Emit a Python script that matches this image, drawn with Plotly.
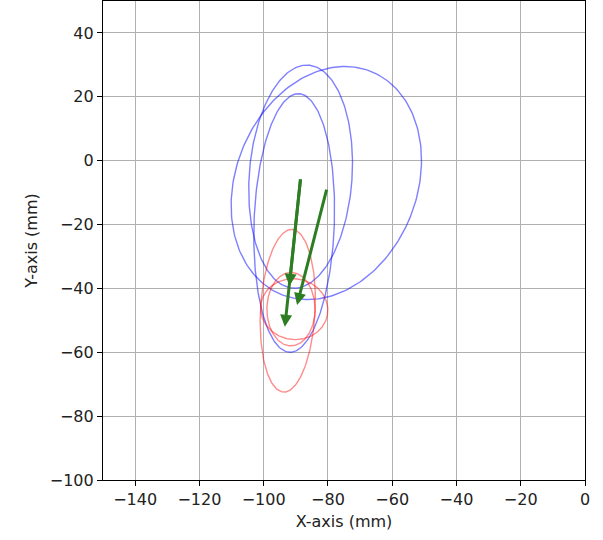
import numpy as np
import plotly.graph_objects as go

# Ellipses (matplotlib-style: center, full width, full height, rotation in degrees)
blue_cx = [-80.5, -88.5, -90.5]
blue_cy = [-7.0, -5.0, -19.5]
blue_w = [56.4, 32.0, 25.0]
blue_h = [75.2, 70.0, 81.0]
blue_ang = [-21.4, -4.0, -2.0]

red_cx = [-92.5, -90.5, -91.5]
red_cy = [-47.0, -46.5, -46.5]
red_w = [17.0, 21.0, 15.0]
red_h = [51.0, 19.0, 23.0]
red_ang = [-3.0, -10.0, 0.0]

# Arrows: start and end points
arr_x0 = [-88.5, -80.3, -88.5]
arr_y0 = [-5.4, -8.6, -5.4]
arr_x1 = [-93.4, -89.6, -92.0]
arr_y1 = [-52.0, -45.2, -39.2]

x_ticks = [-140, -120, -100, -80, -60, -40, -20, 0]
y_ticks = [-100, -80, -60, -40, -20, 0, 20, 40]


def outline(cx, cy, w, h, ang):
    t = np.linspace(0, 2 * np.pi, 241)
    a = np.deg2rad(ang)
    ex = (w / 2) * np.cos(t)
    ey = (h / 2) * np.sin(t)
    return cx + ex * np.cos(a) - ey * np.sin(a), cy + ex * np.sin(a) + ey * np.cos(a)


fig = go.Figure()
for cx, cy, w, h, ang in zip(blue_cx, blue_cy, blue_w, blue_h, blue_ang):
    xs, ys = outline(cx, cy, w, h, ang)
    fig.add_trace(go.Scatter(x=xs, y=ys, mode="lines",
                             line=dict(color="rgba(0,0,255,0.5)", width=1.4),
                             hoverinfo="skip", showlegend=False))
for cx, cy, w, h, ang in zip(red_cx, red_cy, red_w, red_h, red_ang):
    xs, ys = outline(cx, cy, w, h, ang)
    fig.add_trace(go.Scatter(x=xs, y=ys, mode="lines",
                             line=dict(color="rgba(255,0,0,0.45)", width=1.4),
                             hoverinfo="skip", showlegend=False))

for x0, y0, x1, y1 in zip(arr_x0, arr_y0, arr_x1, arr_y1):
    fig.add_annotation(x=x1, y=y1, ax=x0, ay=y0, xref="x", yref="y",
                       axref="x", ayref="y", text="", showarrow=True,
                       arrowhead=2, arrowsize=0.8, arrowwidth=3,
                       arrowcolor="rgb(45,125,35)")

tickfont = dict(family="DejaVu Sans", size=16, color="#222")
fig.update_xaxes(range=[-150, 0], tickvals=x_ticks,
                 ticktext=[str(v).replace("-", "\u2212") for v in x_ticks],
                 showgrid=True, gridcolor="#b0b0b0", gridwidth=1.2,
                 zeroline=False, showline=True, linecolor="black", linewidth=1.2,
                 mirror=True, ticks="outside", ticklen=5, tickcolor="black",
                 tickfont=tickfont,
                 title=dict(text="X-axis (mm)", font=tickfont, standoff=7))
fig.update_yaxes(range=[-100, 50], tickvals=y_ticks,
                 ticktext=[str(v).replace("-", "\u2212") for v in y_ticks],
                 showgrid=True, gridcolor="#b0b0b0", gridwidth=1.2,
                 zeroline=False, showline=True, linecolor="black", linewidth=1.2,
                 mirror=True, ticks="outside", ticklen=5, tickcolor="black",
                 tickfont=tickfont,
                 title=dict(text="Y-axis (mm)", font=tickfont, standoff=8))
fig.update_layout(width=603, height=540, plot_bgcolor="white",
                  paper_bgcolor="white",
                  margin=dict(l=103, r=18, t=1, b=60), showlegend=False)
fig.write_html("out.html", config={"displayModeBar": False},
               post_script="document.body.style.margin='0px';")
